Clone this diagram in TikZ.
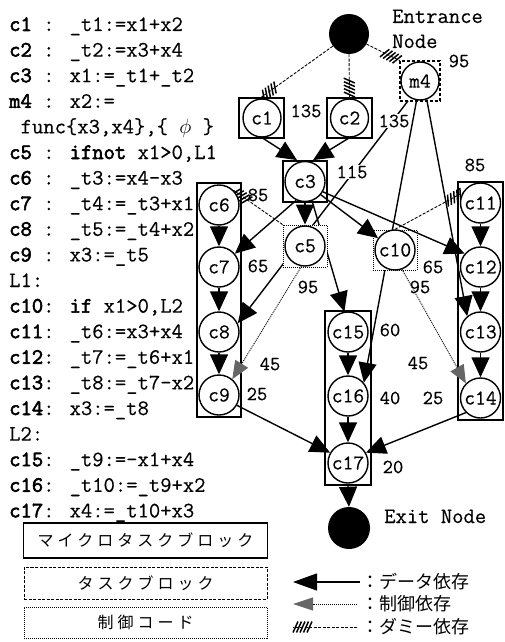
\documentclass[tikz,border=0pt]{standalone}
\usepackage{fontspec}
\newfontfamily\jpfont{Noto Sans CJK JP}
\newfontfamily\jpwide{Noto Sans CJK JP}[LetterSpace=25]
\newfontfamily\cmono{Latin Modern Mono}[FakeBold=0.35]
\newfontfamily\cmonob{Latin Modern Mono}[FakeBold=2.6]
\usetikzlibrary{arrows.meta,decorations.markings}
\newcommand\kb[1]{{\cmonob #1}}
\newcommand\codefont{\fontsize{22}{26}\selectfont\cmono}
\newcommand\lblfont{\fontsize{21}{24}\selectfont\cmono}
\newcommand\numfont{\fontsize{20}{24}\selectfont\cmono}
\newcommand\hatchmark{\draw[line width=1.5pt,solid,line cap=butt] (-2.5pt,-5.5pt) -- (2.5pt,5.5pt);}
\pgfdeclarelayer{gl}\pgfdeclarelayer{bl}\pgfdeclarelayer{ml}\pgfdeclarelayer{el}
\pgfsetlayers{gl,bl,ml,el,main}
\tikzset{
 cn/.style={circle,draw,line width=1.4pt,fill=white,minimum size=40pt,inner sep=0pt,font=\lblfont},
 cs/.style={cn,minimum size=38pt},
 term/.style={circle,fill=black,minimum size=40pt,inner sep=0pt},
 mbox/.style={draw,line width=1.8pt,inner sep=0pt,fill=white},
 gbox/.style={draw,line width=1.4pt,inner sep=0pt},
 tbox/.style={draw,line width=1.1pt,dash pattern=on 3pt off 2pt,inner sep=0pt,fill=white},
 cbox/.style={draw,line width=0.9pt,dash pattern=on 1pt off 1pt,inner sep=0pt,fill=white},
 data/.style={line width=1.4pt,-{Triangle[length=20pt,width=18pt]}},
 ctrl/.style={line width=0.9pt,dash pattern=on 1pt off 1pt,-{Triangle[length=18pt,width=15pt,color=black!60,fill=black!60]}},
 dummy/.style={line width=0.9pt,dash pattern=on 3pt off 1.5pt,postaction={decorate},
   decoration={markings,mark=at position -2.5pt with {\hatchmark},mark=at position -6pt with {\hatchmark},
   mark=at position -9.5pt with {\hatchmark},mark=at position -13pt with {\hatchmark},mark=at position -16.5pt with {\hatchmark}}},
 num/.style={font=\numfont,inner sep=1pt},
 numw/.style={num,fill=white},
 code/.style={font=\codefont,anchor=base west,inner sep=0pt},
 leg/.style={font=\jpfont\fontsize{18}{20}\selectfont,anchor=west,inner sep=0pt},
}
\begin{document}
\begin{tikzpicture}[x=1pt,y=-1pt]
\begin{pgfonlayer}{gl}
\fill[white] (0,0) rectangle (504,642);
\node[gbox,minimum width=44pt,minimum height=234pt] (g6) at (219,300) {};
\node[gbox,minimum width=45pt,minimum height=238pt] (g11) at (480.5,301) {};
\node[gbox,minimum width=46pt,minimum height=174pt] (g15) at (348,398) {};
\end{pgfonlayer}
\useasboundingbox (0,0) rectangle (504,642);

% code listing
\node[code] (k1) at (9,31) {\kb{c1} : \_t1:=x1+x2};
\node[code] (k2) at (9,56.6) {\kb{c2} : \_t2:=x3+x4};
\node[code] (k3) at (9,82.2) {\kb{c3} : x1:=\_t1+\_t2};
\node[code] (k4) at (9,107.8) {\kb{m4} : x2:=};
\node[code] (k5) at (20.5,133.4) {func\{x3,x4\},\{ $\phi$ \}};
\node[code] (k6) at (9,159) {\kb{c5} : \kb{ifnot} x1>0,L1};
\node[code] (k7) at (9,184.6) {\kb{c6} : \_t3:=x4-x3};
\node[code] (k8) at (9,210.2) {\kb{c7} : \_t4:=\_t3+x1};
\node[code] (k9) at (9,235.8) {\kb{c8} : \_t5:=\_t4+x2};
\node[code] (k10) at (9,261.4) {\kb{c9} : x3:=\_t5};
\node[code] (k11) at (9,287) {L1:};
\node[code] (k12) at (9,312.6) {\kb{c10}: \kb{if} x1>0,L2};
\node[code] (k13) at (9,338.2) {\kb{c11}: \_t6:=x3+x4};
\node[code] (k14) at (9,363.8) {\kb{c12}: \_t7:=\_t6+x1};
\node[code] (k15) at (9,389.4) {\kb{c13}: \_t8:=\_t7-x2};
\node[code] (k16) at (9,415) {\kb{c14}: x3:=\_t8};
\node[code] (k17) at (9,440.6) {L2:};
\node[code] (k18) at (9,466.2) {\kb{c15}: \_t9:=-x1+x4};
\node[code] (k19) at (9,491.8) {\kb{c16}: \_t10:=\_t9+x2};
\node[code] (k20) at (9,517.4) {\kb{c17}: x4:=\_t10+x3};

% terminals
\node[term] (ent) at (349,34) {};
\node[term,minimum size=42pt] (ex) at (349,528) {};
\node[code] (entl) at (392,23) {Entrance};
\node[code] (entl2) at (392,48) {Node};
\node[code] (exl) at (384,523) {Exit Node};

% circles
\node[cs] (c1) at (262,118) {c1};
\node[cs] (c2) at (349.5,118) {c2};
\node[cn] (c3) at (305,181.5) {c3};
\node[cs] (m4) at (420,81) {m4};
\node[cn] (c5) at (305,246) {c5};
\node[cn] (c10) at (395,250) {c10};
\node[cn] (c6) at (219,205) {c6};
\node[cn] (c7) at (219,267) {c7};
\node[cn] (c8) at (219,332) {c8};
\node[cn] (c9) at (219,395) {c9};
\node[cn] (c11) at (480.5,203) {c11};
\node[cn] (c12) at (480.5,267) {c12};
\node[cn] (c13) at (480.5,332) {c13};
\node[cn] (c14) at (480.5,398) {c14};
\node[cn] (c15) at (348,332) {c15};
\node[cn] (c16) at (348,396) {c16};
\node[cn] (c17) at (348,463) {c17};

% cost labels
\node[num] (n1) at (306,111) {135};
\node[numw] (n2) at (394,121) {135};
\node[numw] (n3) at (352,172) {115};
\node[num] (n4) at (459,61) {95};
\node[num] (n5) at (258,195) {85};
\node[num] (n6) at (475,165) {85};
\node[num] (n7) at (258,266) {65};
\node[num] (n8) at (308,287) {95};
\node[num] (n9) at (433,267) {65};
\node[num] (n10) at (420,287) {95};
\node[num] (n11) at (390,330) {60};
\node[num] (n12) at (270,364) {45};
\node[num] (n13) at (257,394) {25};
\node[num] (n14) at (418,363) {45};
\node[num] (n15) at (390,398) {40};
\node[num] (n16) at (433,398) {25};
\node[num] (n17) at (393,467) {20};

\begin{pgfonlayer}{ml}
\node[mbox,minimum width=45pt,minimum height=40pt] (b1) at (261.5,118) {};
\node[mbox,minimum width=45pt,minimum height=40pt] (b2) at (349.5,118) {};
\node[mbox,minimum width=44pt,minimum height=41pt] (b3) at (305,181.5) {};
\node[tbox,minimum width=40pt,minimum height=40pt] (bm4) at (420,81) {};
\node[cbox,minimum width=44pt,minimum height=42pt] (b5) at (305,246) {};
\node[cbox,minimum width=44pt,minimum height=40pt] (b10) at (395,250) {};
\end{pgfonlayer}

\begin{pgfonlayer}{bl}
\draw[data] (m4.-120) -- (c8.25);
\draw[data] (m4.-100) -- (c16.40);
\draw[data] (c3.-70) -- (c15.100);
\end{pgfonlayer}

\begin{pgfonlayer}{el}
\draw[data] (c1.south) -- ([xshift=-8pt]b3.north);
\draw[data] (c2.south) -- ([xshift=8pt]b3.north);
\draw[data] (c3.south) -- (b5.north);
\draw[data] (c3.-115) -- (c7.40);
\draw[data] (c3.-40) -- (c10.145);
\draw[data] (c3.-30) -- (c12.140);
\draw[data] (m4.-70) -- (c13.130);
\draw[data] (c6) -- (c7);
\draw[data] (c7) -- (c8);
\draw[data] (c8) -- (c9);
\draw[data] (c11) -- (c12);
\draw[data] (c12) -- (c13);
\draw[data] (c13) -- (c14);
\draw[data] (c15) -- (c16);
\draw[data] (c16) -- (c17);
\draw[data] (c9.-30) -- (c17.150);
\draw[data] (c14.-135) -- (c17.30);
\draw[data] (g15.south) -- (ex.north);
\draw[ctrl] (c5.-100) -- (c9.50);
\draw[ctrl] (c10.-70) -- (c14.135);
\draw[dummy] (ent.-143) -- (b1.north);
\draw[dummy] (ent.south) -- (b2.north);
\draw[dummy] (ent.-30) -- (bm4.north west);
\draw[dummy] (b5.north west) -- (c6.45);
\draw[dummy] (c10.north) -- (c11.150);
\end{pgfonlayer}

% legend
\node[draw,line width=1.8pt,minimum width=244pt,minimum height=35pt,inner sep=0pt] (lb1) at (145.5,540.5) {\jpwide\fontsize{16}{18}\selectfont マイクロタスクブロック};
\node[draw,line width=1pt,dash pattern=on 3pt off 1.5pt,minimum width=243pt,minimum height=32pt,inner sep=0pt] (lb2) at (145.5,583) {\jpwide\fontsize{16}{18}\selectfont タスクブロック};
\node[draw,line width=0.8pt,dash pattern=on 1pt off 1pt,minimum width=243pt,minimum height=31pt,inner sep=0pt] (lb3) at (145.5,622.5) {\jpwide\fontsize{16}{18}\selectfont 制御コード};
\coordinate (la0) at (293,582); \coordinate (la1) at (360,582);
\coordinate (lc0) at (293,604); \coordinate (lc1) at (357,604);
\coordinate (ld0) at (293,627); \coordinate (ld1) at (357,627);
\draw[line width=1.4pt,-{Triangle[length=24pt,width=17pt]}] (la1) -- (la0);
\draw[line width=0.9pt,dash pattern=on 1pt off 1pt,-{Triangle[length=20pt,width=13pt,color=black!60,fill=black!60]}] (lc1) -- (lc0);
\draw[dummy] (ld1) -- (ld0);
\node[leg] (lt1) at (361,582) {：データ依存};
\node[leg] (lt2) at (361,604) {：制御依存};
\node[leg] (lt3) at (361,627) {：ダミー依存};
\end{tikzpicture}
\end{document}
